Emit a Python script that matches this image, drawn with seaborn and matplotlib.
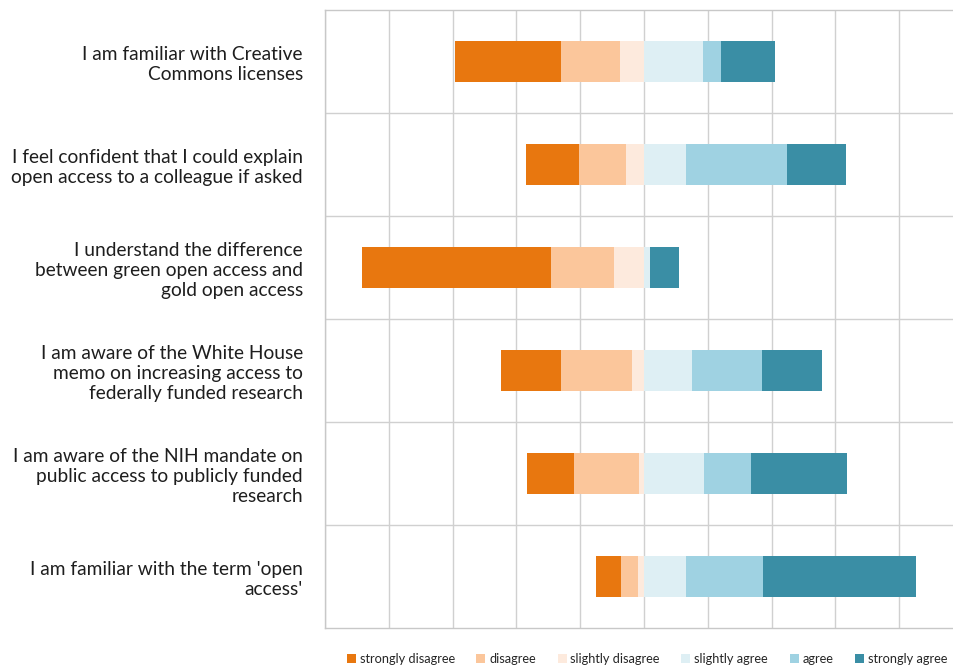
import matplotlib
matplotlib.use("Agg")
import matplotlib.pyplot as plt
from matplotlib.patches import Patch
import seaborn as sns
import pandas as pd
import numpy as np

statements = [
    "I am familiar with Creative\nCommons licenses",
    "I feel confident that I could explain\nopen access to a colleague if asked",
    "I understand the difference\nbetween green open access and\ngold open access",
    "I am aware of the White House\nmemo on increasing access to\nfederally funded research",
    "I am aware of the NIH mandate on\npublic access to publicly funded\nresearch",
    "I am familiar with the term 'open\naccess'",
]
levels = ["strongly disagree", "disagree", "slightly disagree",
          "slightly agree", "agree", "strongly agree"]

strongly_disagree = [33.4, 16.6, 59.2, 18.6, 14.8, 7.6]
disagree = [18.3, 14.9, 20.0, 22.4, 20.4, 5.5]
slightly_disagree = [7.6, 5.5, 9.3, 3.7, 1.6, 1.8]
slightly_agree = [18.6, 13.1, 1.8, 15.0, 18.8, 13.1]
agree = [5.5, 31.8, 0.0, 22.1, 14.8, 24.2]
strongly_agree = [16.9, 18.5, 9.2, 18.6, 30.0, 47.9]

colors = ["#E8770F", "#FBC69B", "#FDEADD", "#DEEFF4", "#9FD2E2", "#3A8EA5"]

sns.set_style("white")
plt.rcParams["font.family"] = ["Lato", "DejaVu Sans"]

df = pd.DataFrame({"statement": statements,
                   "sd": strongly_disagree, "d": disagree, "sld": slightly_disagree,
                   "sla": slightly_agree, "a": agree, "sa": strongly_agree})

fig = plt.figure(figsize=(9.54, 6.68), dpi=100)
ax = fig.add_axes([325 / 954, 1 - 628 / 668, 1 - 325 / 954, (628 - 10) / 668])

# cumulative extents, drawn largest first so segments stack visually
neg_layers = [
    (-(df.sd + df.d + df.sld), colors[0]),
    (-(df.d + df.sld), colors[1]),
    (-df.sld, colors[2]),
]
pos_layers = [
    (df.sla + df.a + df.sa, colors[5]),
    (df.sla + df.a, colors[4]),
    (df.sla, colors[3]),
]
for vals, col in neg_layers + pos_layers:
    sns.barplot(x=vals.values, y=df.statement, orient="h", color=col,
                width=0.4, linewidth=0, ax=ax, zorder=3, saturation=1)

ax.set_xlim(-100, 97.2)
ax.set_ylim(5.5, -0.5)
ax.set_xticks(np.arange(-100, 100, 20))
ax.set_xticklabels([])
ax.set_yticks(np.arange(6))
ax.set_yticks(np.arange(0.5, 5.5, 1.0), minor=True)
ax.set_yticklabels(statements, fontsize=13.8, color="#1E1E1E", linespacing=1.22)
ax.tick_params(axis="y", which="major", length=0, pad=16)
ax.tick_params(axis="y", which="minor", length=0)
ax.tick_params(axis="x", length=0)
ax.set_xlabel("")
ax.set_ylabel("")
ax.grid(True, axis="x", color="#D0D0D0", linewidth=1.0, zorder=0)
ax.grid(True, axis="y", which="minor", color="#D0D0D0", linewidth=1.0, zorder=0)
ax.grid(False, axis="y", which="major")
ax.set_axisbelow(True)
for side in ["top", "bottom", "left"]:
    ax.spines[side].set_color("#C8C8C8")
    ax.spines[side].set_linewidth(1.0)
ax.spines["right"].set_visible(False)

handles = [Patch(facecolor=c, edgecolor="none", label=l) for c, l in zip(colors, levels)]
fig.legend(handles=handles, loc="center", bbox_to_anchor=(647 / 954, 1 - 659 / 668),
           ncol=6, frameon=False, fontsize=9.2, handlelength=0.7, handleheight=0.7,
           handletextpad=0.3, columnspacing=1.7)

fig.savefig("out.png", dpi=100)
